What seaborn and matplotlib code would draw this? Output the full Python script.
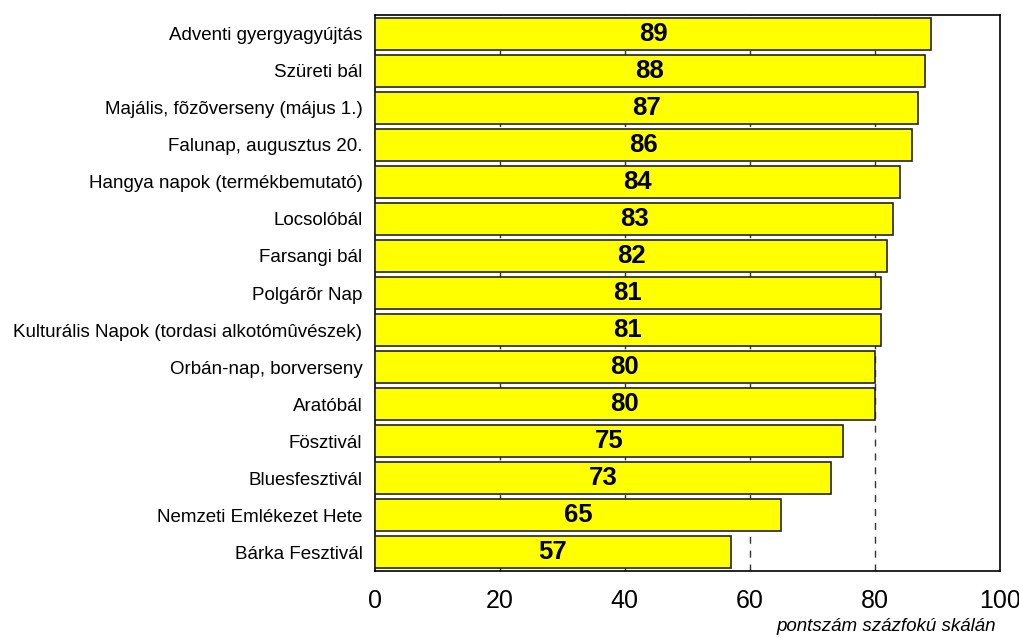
import matplotlib
matplotlib.use("Agg")
import matplotlib.pyplot as plt
import seaborn as sns
import pandas as pd

categories = [
    "Adventi gyergyagyújtás",
    "Szüreti bál",
    "Majális, fõzõverseny (május 1.)",
    "Falunap, augusztus 20.",
    "Hangya napok (termékbemutató)",
    "Locsolóbál",
    "Farsangi bál",
    "Polgárõr Nap",
    "Kulturális Napok (tordasi alkotómûvészek)",
    "Orbán-nap, borverseny",
    "Aratóbál",
    "Fösztivál",
    "Bluesfesztivál",
    "Nemzeti Emlékezet Hete",
    "Bárka Fesztivál",
]
scores = [89, 88, 87, 86, 84, 83, 82, 81, 81, 80, 80, 75, 73, 65, 57]
x_ticks = [0, 20, 40, 60, 80, 100]
x_label = "pontszám százfokú skálán"

sns.set_theme(style="white")
plt.rcParams['font.family'] = ['Liberation Sans', 'DejaVu Sans']
plt.rcParams['text.color'] = 'black'
plt.rcParams['xtick.color'] = 'black'
plt.rcParams['ytick.color'] = 'black'

df = pd.DataFrame({"cat": categories, "score": scores})

fig = plt.figure(figsize=(10.19, 6.37), dpi=100)
ax = fig.add_axes([0.368, 0.104, 0.613, 0.872])

sns.barplot(data=df, x="score", y="cat", orient="h", color="#FFFF00",
            saturation=1, edgecolor="#222222", linewidth=1.2, width=0.86, ax=ax, zorder=3)

for c in ax.containers:
    ax.bar_label(c, label_type="center", fontsize=18.5, fontweight="bold",
                 color="black", fmt="%d", zorder=4)

ax.set_xlim(0, 100)
ax.set_ylim(14.5, -0.5)
ax.set_xticks(x_ticks)
ax.set_xticklabels([str(t) for t in x_ticks], fontsize=18)
ax.tick_params(axis="y", labelsize=13.5, length=0, pad=9, labelcolor="black")
ax.tick_params(axis="x", length=0, pad=13, labelcolor="black")
for t in [20, 40, 60, 80]:
    ax.axvline(t, color="#333333", linestyle=(0, (5, 5)), linewidth=1, zorder=1)
ax.set_ylabel("")
ax.set_xlabel("")
for s in ax.spines.values():
    s.set_visible(True)
    s.set_color("black")
    s.set_linewidth(1.2)
fig.text(0.977, 0.003, x_label, ha="right", va="bottom", fontsize=13.5, style="italic")

fig.savefig("out.png", dpi=100)
